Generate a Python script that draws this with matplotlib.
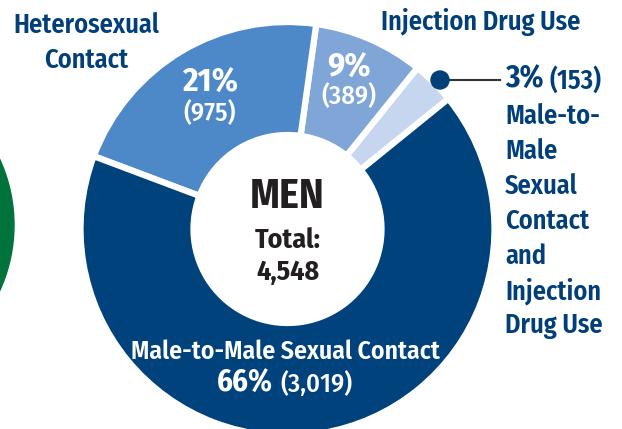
import matplotlib
matplotlib.use("Agg")
import matplotlib.pyplot as plt
from matplotlib.patches import Circle

# data
groups = ["Male-to-Male Sexual Contact and Injection Drug Use",
          "Injection Drug Use", "Heterosexual Contact",
          "Male-to-Male Sexual Contact"]
counts = [153, 389, 975, 3019]
percents = [3, 9, 21, 66]
total = 4548
colors = ["#C6D6EE", "#7FA6D7", "#4D88C8", "#00427B"]

navy = "#003F7A"
plt.rcParams['font.family'] = ['Fira Sans Condensed', 'DejaVu Sans']

fig = plt.figure(figsize=(6.22, 4.29), dpi=100)
ax = fig.add_axes([0, 0, 1, 1])

H = 429
cx, cy = 287.5, H - 229
R, hole = 207, 94

# green edge of neighbouring chart
ax.add_patch(Circle((-144, H - 225), 158, color="#00733B", zorder=0))

ax.pie(counts, colors=colors, startangle=39, counterclock=True,
       center=(cx, cy), radius=R, frame=True,
       wedgeprops=dict(width=R - hole, edgecolor="white", linewidth=4.5))
ax.set_xlim(0, 622)
ax.set_ylim(0, 429)
ax.set_aspect("equal")
ax.axis("off")

# center
ax.text(cx, H - 197, "MEN", ha="center", va="center", fontsize=30,
        fontweight="bold", color="#231F20")
ax.text(cx, H - 240, "Total:", ha="center", va="center", fontsize=20,
        fontweight="bold", color="#231F20")
ax.text(cx, H - 272, f"{total:,}", ha="center", va="center", fontsize=20,
        fontweight="bold", color="#231F20")

# heterosexual
ax.text(86, H - 25, "Heterosexual", ha="center", va="center", fontsize=19,
        fontweight="semibold", color=navy)
ax.text(86, H - 60, "Contact", ha="center", va="center", fontsize=19,
        fontweight="semibold", color=navy)
ax.text(210, H - 83, f"{percents[2]}%", ha="center", va="center",
        fontsize=24, fontweight="bold", color="white")
ax.text(210, H - 113, f"({counts[2]:,})", ha="center", va="center",
        fontsize=19, fontweight="medium", color="white")

# injection drug use
ax.text(481, H - 22, "Injection Drug Use", ha="center", va="center",
        fontsize=19, fontweight="semibold", color=navy)
ax.text(349, H - 68, f"{percents[1]}%", ha="center", va="center",
        fontsize=24, fontweight="bold", color="white")
ax.text(349, H - 96, f"({counts[1]:,})", ha="center", va="center",
        fontsize=19, fontweight="medium", color="white")

# MSM & IDU callout
ax.plot([440, 500], [H - 80, H - 80], color="#333333", lw=1.5, zorder=3)
ax.add_patch(Circle((440, H - 80), 9, color=navy, zorder=4))
ax.text(505, H - 80, f"{percents[0]}%", ha="left", va="center",
        fontsize=22, fontweight="bold", color=navy)
ax.text(550, H - 80, f"({counts[0]:,})", ha="left", va="center",
        fontsize=19, fontweight="semibold", color=navy)
lines = ["Male-to-", "Male", "Sexual", "Contact", "and", "Injection",
         "Drug Use"]
for i, s in enumerate(lines):
    ax.text(505, H - 116 - i * 35, s, ha="left", va="center", fontsize=19,
            fontweight="semibold", color=navy)

# MSM
ax.text(cx - 2, H - 352, groups[3], ha="center", va="center", fontsize=18.5,
        fontweight="semibold", color="white")
ax.text(273, H - 384, f"{percents[3]}%", ha="right", va="center",
        fontsize=22, fontweight="bold", color="white")
ax.text(280, H - 384, f"({counts[3]:,})", ha="left", va="center",
        fontsize=19, fontweight="medium", color="white")

fig.savefig("out.png", dpi=100)
